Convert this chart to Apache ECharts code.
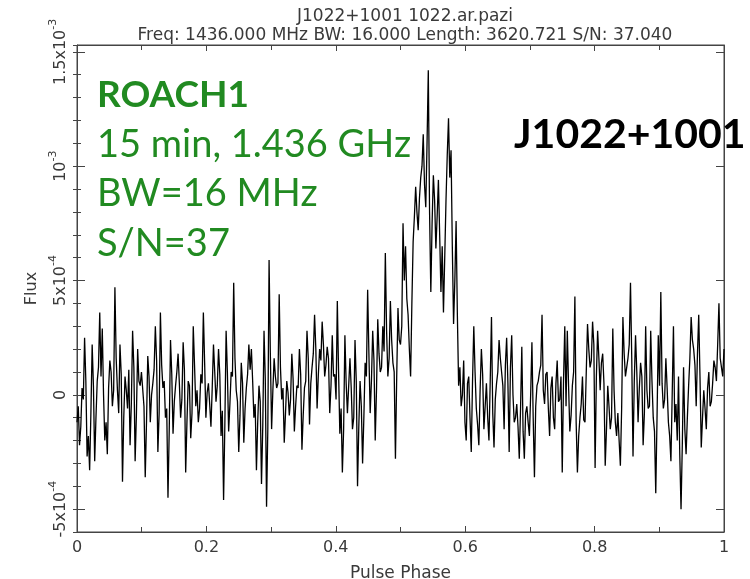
<!DOCTYPE html>
<html>
<head>
<meta charset="utf-8">
<script src="https://cdn.jsdelivr.net/npm/echarts@6/dist/echarts.min.js"></script>
<style>html,body{margin:0;padding:0;background:#fff}#c{width:750px;height:579px}</style>
</head>
<body>
<div id="c"></div>
<script>
// Flux in units of 1e-4, even phase bins
const fluxEven = [
-1.2,-2.2,0.3,2.5,-2.7,-3.3,2.2,-2.9,0.6,3.6,2.9,-2.0,-2.6,1.5,-0.5,4.7,0.2,2.2,-3.8,0.8,
-0.6,-2.2,2.8,-2.9,2.0,0.4,1.0,-3.6,1.7,-1.2,0.5,3.0,-2.5,3.6,0.3,-1.0,-4.5,2.4,-1.7,0.4,
1.8,-1.0,2.3,-3.4,0.6,-1.9,3.0,-0.5,-1.2,0.9,3.6,-1.0,0.5,-1.4,2.2,-0.3,2.0,-1.8,-4.6,2.8,
-1.6,1.0,4.9,0.2,-2.5,1.4,-2.1,0.3,2.2,2.0,-1.0,-3.3,0.4,-3.9,2.8,-4.9,5.9,-1.5,1.6,0.3,
4.4,-0.2,-2.1,0.6,-0.9,1.8,-1.6,0.4,2.0,-2.4,0.3,2.8,-1.3,1.2,3.5,-0.6,2.0,3.2,0.8,2.1,
-0.8,2.6,0.9,4.1,-1.7,-3.4,2.6,-0.8,1.6,-1.5,2.4,-4.0,0.6,-3.0,1.4,4.6,-0.8,2.8,-2.0,3.3,
1.0,3.0,6.2,0.8,4.1,1.4,-2.8,3.8,2.2,7.5,6.5,3.5,0.8,6.7,9.1,7.2,9.5,11.4,8.2,14.2,
4.5,9.6,6.4,9.4,4.5,3.6,8.5,12.1,10.7,3.1,7.6,0.4,-0.5,1.5,-2.0,0.8,-2.5,3.0,-0.6,-2.2,
2.0,-1.5,0.5,-2.0,3.4,-2.3,0.5,2.4,1.0,-1.5,2.5,-2.5,2.6,-1.2,-0.4,-2.8,2.1,-2.8,-0.5,-1.8,
2.3,-3.6,0.4,1.0,3.5,-0.4,1.0,-1.8,0.8,-1.5,1.5,-0.2,-3.4,3.0,2.8,-1.6,0.4,4.3,-3.4,-1.0,
0.8,-1.2,3.1,1.2,3.2,-3.2,2.8,0.2,1.8,-3.1,0.4,-1.5,2.9,-1.2,-0.8,-3.1,3.4,0.8,1.6,4.9,
-2.7,2.6,-1.2,1.4,-2.2,3.0,-0.6,2.8,-1.0,-4.3,2.6,4.5,-0.6,1.6,-1.2,-2.9,3.0,-0.4,0.8,-5.0,
1.2,-2.6,0.4,3.4,2.0,-0.5,3.5,-2.3,0.2,-1.5,1.0,-0.3,1.5,0.6,4.0,1.2,2.0
];
const fluxOdd = [
-0.5,-1.4,-0.2,0.6,-1.8,-0.8,0.4,-1.0,1.2,0.8,
0.0,-1.2,0.3,1.0,0.2,1.6,-0.8,0.9,-1.0,0.2,
1.1,-0.4,1.2,-0.9,0.6,1.0,-0.5,-1.2,0.8,0.0,
1.1,1.5,-0.8,1.3,0.6,-0.6,-1.5,0.9,-0.3,1.0,
0.5,-0.2,1.1,-1.2,0.4,-0.8,1.3,0.2,-0.6,0.5,
1.4,0.1,-0.4,0.3,1.0,0.4,0.9,-0.7,-1.3,1.0,
-0.4,0.8,1.6,-0.3,-0.9,0.5,-0.6,0.9,1.1,0.6,
-0.4,-1.2,-0.3,-1.4,0.7,-1.5,1.8,0.2,0.8,0.5,
1.2,0.3,-0.8,0.1,-0.2,0.7,-0.5,0.3,0.9,-0.9,
0.6,1.6,0.5,1.8,2.0,0.9,1.5,2.2,1.3,1.6,
0.4,0.8,-0.2,1.0,-0.6,-1.5,0.5,-0.8,0.3,-1.0,
0.6,-1.4,-0.5,-1.0,0.8,1.8,0.6,1.5,0.2,1.8,
1.2,1.9,2.8,1.6,2.4,1.0,0.8,2.4,3.0,5.0,
4.2,2.0,4.0,7.8,8.0,8.6,10.0,9.2,11.0,8.0,
7.5,8.5,7.8,7.0,6.5,6.0,10.5,9.5,6.5,5.0,
3.5,1.2,0.0,-1.2,0.5,-1.0,0.6,1.0,-1.3,0.2,
0.9,-0.5,-1.0,0.6,-0.8,-0.2,1.0,1.6,0.4,1.3,
0.5,1.2,0.0,-1.0,-1.4,-0.6,-1.6,-0.8,-1.2,0.0,
-1.0,-0.5,0.6,1.3,0.2,0.9,-0.6,0.3,-1.0,0.5,
-0.3,0.8,0.6,-0.5,0.4,-0.9,1.0,-1.2,-1.8,-0.4,
-1.1,1.0,2.0,1.5,2.2,0.8,1.6,1.4,0.5,-1.5,
-0.5,-1.0,0.2,-1.8,-2.0,-0.6,1.8,1.2,2.2,1.6,
0.6,1.0,0.3,0.8,-0.8,0.2,-0.5,0.6,-1.6,-1.0,
0.4,0.5,-0.2,0.3,-1.8,0.0,-1.2,-2.0,-2.6,-2.2,
-1.5,-1.0,1.6,2.4,1.3,1.8,0.8,-1.0,-0.6,0.3,
-0.5,0.5,1.2,2.2,1.6,0.8
];

const xTickValues = [0, 0.2, 0.4, 0.6, 0.8, 1];
const xTickLabels = ['0', '0.2', '0.4', '0.6', '0.8', '1'];
const yTickValues = [-5, 0, 5, 10, 15];
const yTickLabels = ['-5x10^-4', '0', '5x10^-4', '10^-3', '1.5x10^-3'];

const titleLine1 = 'J1022+1001 1022.ar.pazi';
const titleLine2 = 'Freq: 1436.000 MHz BW: 16.000 Length: 3620.721 S/N: 37.040';
const xName = 'Pulse Phase';
const yName = 'Flux';
const noteLines = ['ROACH1', '15 min, 1.436 GHz', 'BW=16 MHz', 'S/N=37'];
const pulsarName = 'J1022+1001';

// interleave the bins in phase order
const flux = [];
for (let i = 0; i < fluxEven.length; i++) {
  flux.push(fluxEven[i]);
  if (i < fluxOdd.length) flux.push(fluxOdd[i]);
}
const phase = flux.map((_, i) => i / (flux.length - 1));

const AX = '#444';
const TXT = '#3a3a3a';
const pgFont = 'DejaVu Sans';
const GREEN = '#218a21';

function richLabel(s) {
  const m = s.split('^');
  if (m.length === 1) return '{b|' + m[0] + '}';
  return '{b|' + m[0] + '}{s|' + m[1] + '}';
}

const Y_MIN = -6, Y_MAX = 15.3;

const chart = echarts.init(document.getElementById('c'), null, {renderer: 'canvas'});
const yBase = {type: 'value', min: Y_MIN, max: Y_MAX, gridIndex: 0, splitLine: {show: false}};
const option = {
  animation: false,
  backgroundColor: '#fff',
  grid: {left: 77, right: 26, top: 45, bottom: 47, show: true, borderColor: AX, borderWidth: 1, outerBoundsMode: 'none'},
  title: [
    {text: titleLine1, left: 400, top: 3, textAlign: 'center',
     textStyle: {fontFamily: pgFont, fontSize: 17, fontWeight: 'normal', color: TXT}},
    {text: titleLine2, left: 400, top: 22, textAlign: 'center',
     textStyle: {fontFamily: pgFont, fontSize: 17, fontWeight: 'normal', color: TXT}}
  ],
  xAxis: [
    {type: 'value', min: 0, max: 1, interval: 0.2, position: 'bottom',
     name: xName, nameLocation: 'middle', nameGap: 33,
     nameTextStyle: {fontFamily: pgFont, fontSize: 17, color: TXT},
     axisLine: {show: true, onZero: false, lineStyle: {color: AX}},
     axisTick: {show: true, inside: true, length: 6, lineStyle: {color: AX}},
     minorTick: {show: true, splitNumber: 2, length: 5, lineStyle: {color: AX}},
     axisLabel: {show: true, margin: 8, fontFamily: pgFont, fontSize: 16, color: TXT,
       formatter: v => { const k = xTickValues.findIndex(t => Math.abs(t - v) < 1e-9); return k >= 0 ? xTickLabels[k] : ''; }},
     splitLine: {show: false}},
    {type: 'value', min: 0, max: 1, interval: 0.2, position: 'top',
     axisLine: {show: true, onZero: false, lineStyle: {color: AX}},
     axisTick: {show: true, inside: true, length: 6, lineStyle: {color: AX}},
     minorTick: {show: true, splitNumber: 2, length: 5, lineStyle: {color: AX}},
     axisLabel: {show: false}, splitLine: {show: false}}
  ],
  yAxis: [
    Object.assign({}, yBase, {position: 'left',
      name: yName, nameLocation: 'middle', nameGap: 36, nameRotate: 90,
      nameTextStyle: {fontFamily: pgFont, fontSize: 16, color: TXT},
      axisLine: {show: true, onZero: false, lineStyle: {color: AX}},
      axisTick: {show: true, inside: true, length: 8, customValues: yTickValues, lineStyle: {color: AX}},
      axisLabel: {show: true, rotate: 90, margin: 8, customValues: yTickValues,
        formatter: v => { const k = yTickValues.findIndex(t => Math.abs(t - v) < 1e-9); return k >= 0 ? richLabel(yTickLabels[k]) : ''; },
        rich: {
          b: {fontFamily: pgFont, fontSize: 16, color: TXT, verticalAlign: 'bottom'},
          s: {fontFamily: pgFont, fontSize: 11, color: TXT, verticalAlign: 'top', padding: [0, 0, 10, 0]}
        }}}),
    Object.assign({}, yBase, {position: 'left', interval: 1,
      axisLine: {show: false},
      axisTick: {show: true, inside: true, length: 4, lineStyle: {color: AX}},
      axisLabel: {show: false}}),
    Object.assign({}, yBase, {position: 'right',
      axisLine: {show: true, onZero: false, lineStyle: {color: AX}},
      axisTick: {show: true, inside: true, length: 8, customValues: yTickValues, lineStyle: {color: AX}},
      axisLabel: {show: false}}),
    Object.assign({}, yBase, {position: 'right', interval: 1,
      axisLine: {show: false},
      axisTick: {show: true, inside: true, length: 4, lineStyle: {color: AX}},
      axisLabel: {show: false}})
  ],
  series: [{
    type: 'line', xAxisIndex: 0, yAxisIndex: 0,
    data: phase.map((p, i) => [p, flux[i]]),
    showSymbol: false, symbol: 'none',
    lineStyle: {color: '#000', width: 1.3},
    z: 5
  }],
  graphic: [
    {type: 'text', left: 97, top: 77, z: 10, style: {text: noteLines[0], fontFamily: 'Lato', fontWeight: 'bold', fontSize: 37, fill: GREEN}},
    {type: 'text', left: 97, top: 126, z: 10, style: {text: noteLines[1], fontFamily: 'Lato', fontSize: 38, fill: GREEN}},
    {type: 'text', left: 97, top: 175, z: 10, style: {text: noteLines[2], fontFamily: 'Lato', fontSize: 38, fill: GREEN}},
    {type: 'text', left: 97, top: 225, z: 10, style: {text: noteLines[3], fontFamily: 'Lato', fontSize: 38, fill: GREEN}},
    {type: 'text', left: 514, top: 114, z: 10, style: {text: pulsarName, fontFamily: 'Lato', fontWeight: 'bold', fontSize: 41, fill: '#000'}}
  ]
};
chart.setOption(option);
</script>
</body>
</html>
